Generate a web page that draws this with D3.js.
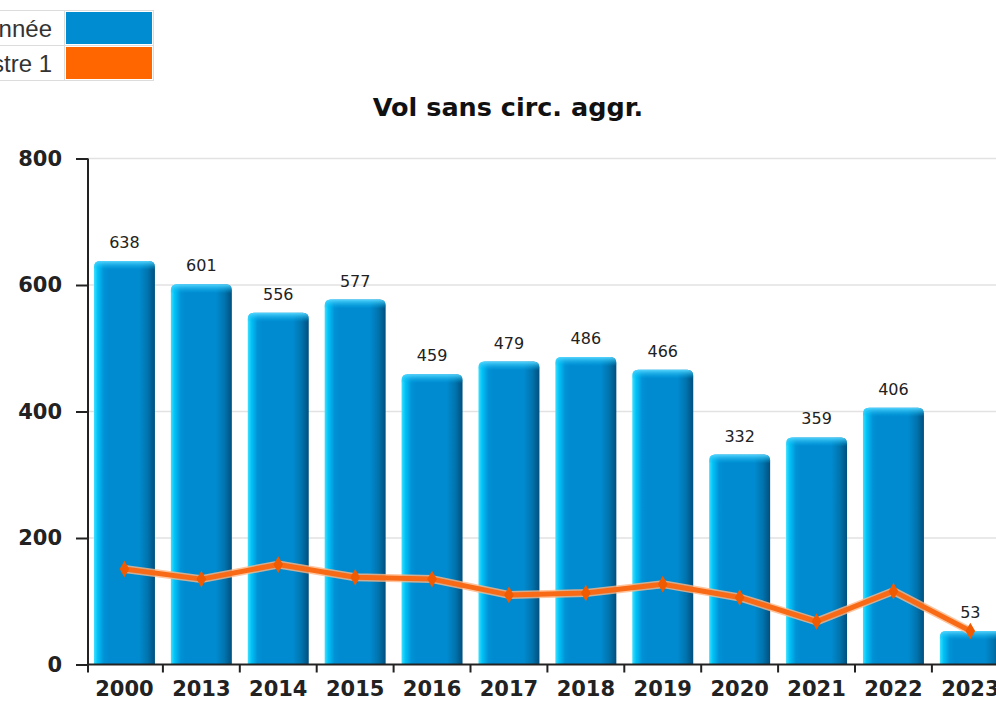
<!DOCTYPE html>
<html>
<head>
<meta charset="utf-8">
<script src="https://cdn.jsdelivr.net/npm/d3@7"></script>
<style>
  html, body { margin: 0; padding: 0; background: #fff; overflow: hidden; }
  svg { display: block; }
</style>
</head>
<body>
<svg id="chart"></svg>
<script>
// data
let years = ["2000", "2013", "2014", "2015", "2016", "2017", "2018", "2019", "2020", "2021", "2022", "2023"];
let annee = [638, 601, 556, 577, 459, 479, 486, 466, 332, 359, 406, 53];
let trimestre1 = [151, 135, 158, 138, 135, 110, 113, 127, 106, 68, 116, 53];
let yTicks = [0, 200, 400, 600, 800];
let legendLabels = ["Année", "Trimestre 1"];
let legendColors = ["#008cd1", "#ff6600"];
let title = "Vol sans circ. aggr.";

let W = 996, H = 701;
let svg = d3.select("#chart").attr("width", W).attr("height", H);

// gradients for the 3d look of the bars
let defs = svg.append("defs");
let gBody = defs.append("linearGradient").attr("id", "barBody")
    .attr("x1", 0).attr("x2", 1).attr("y1", 0).attr("y2", 0);
[["0%", "#3fe0ff"], ["6%", "#00c3f7"], ["16%", "#0092d6"], ["24%", "#008bd0"],
 ["74%", "#008bd0"], ["88%", "#0074ae"], ["100%", "#004f7e"]].forEach(function(s) {
    gBody.append("stop").attr("offset", s[0]).attr("stop-color", s[1]);
});
let gCap = defs.append("linearGradient").attr("id", "barCap")
    .attr("x1", 0).attr("x2", 0).attr("y1", 0).attr("y2", 1);
gCap.append("stop").attr("offset", "0%").attr("stop-color", "#5ad8ff").attr("stop-opacity", 0.95);
gCap.append("stop").attr("offset", "100%").attr("stop-color", "#00b0ee").attr("stop-opacity", 0);

// scales
let step = 76.9;
let x = d3.scaleBand().domain(years)
    .range([86, 86 + step * years.length])
    .paddingInner(0.207).paddingOuter(0.1035);
let y = d3.scaleLinear().domain([0, 800]).range([664.5, 158.5]);
let cx = function(d) { return x(d) + x.bandwidth() / 2; };

// title
svg.append("text")
    .attr("x", 508).attr("y", 116)
    .attr("text-anchor", "middle")
    .style("font-family", "DejaVu Sans").style("font-weight", "bold").style("font-size", "25.5px")
    .style("fill", "#111")
    .text(title);

// gridlines
svg.append("g").selectAll("line")
    .data(yTicks.filter(function(d) { return d > 0; }))
    .enter().append("line")
    .attr("x1", 88).attr("x2", W)
    .attr("y1", function(d) { return y(d); })
    .attr("y2", function(d) { return y(d); })
    .style("stroke", "#e2e2e2").style("stroke-width", 1.5);

// bars
function barPath(x0, w, top, bottom, r) {
    return "M" + x0 + "," + bottom +
        "V" + (top + r) +
        "Q" + x0 + "," + top + " " + (x0 + r) + "," + top +
        "H" + (x0 + w - r) +
        "Q" + (x0 + w) + "," + top + " " + (x0 + w) + "," + (top + r) +
        "V" + bottom + "Z";
}
let bars = svg.append("g").selectAll("g")
    .data(years).enter().append("g");
bars.append("path")
    .attr("d", function(d, i) { return barPath(x(d), x.bandwidth(), y(annee[i]), y(0), 6); })
    .style("fill", "url(#barBody)");
bars.append("path")
    .attr("d", function(d, i) { return barPath(x(d), x.bandwidth(), y(annee[i]), y(annee[i]) + 9, 6); })
    .style("fill", "url(#barCap)");

// value labels over the bars
svg.append("g").selectAll("text")
    .data(years).enter().append("text")
    .attr("x", cx)
    .attr("y", function(d, i) { return y(annee[i]) - 13; })
    .attr("text-anchor", "middle")
    .style("font-family", "DejaVu Sans").style("font-size", "16px")
    .style("fill", "#222")
    .text(function(d, i) { return annee[i]; });

// trimestre 1 line
let line = d3.line()
    .x(function(d, i) { return cx(years[i]); })
    .y(function(d) { return y(d); });
svg.append("path").datum(trimestre1)
    .attr("d", line)
    .style("fill", "none").style("stroke", "#ffb787").style("stroke-width", 8)
    .style("stroke-linejoin", "round").style("opacity", 0.8);
svg.append("path").datum(trimestre1)
    .attr("d", line)
    .style("fill", "none").style("stroke", "#f86a16").style("stroke-width", 5)
    .style("stroke-linejoin", "round");
svg.append("g").selectAll("path")
    .data(trimestre1).enter().append("path")
    .attr("transform", function(d, i) { return "translate(" + cx(years[i]) + "," + y(d) + ")"; })
    .attr("d", d3.symbol().type(d3.symbolDiamond).size(80))
    .style("fill", "#f05a00");

// y axis
let yAxis = svg.append("g")
    .attr("transform", "translate(88,0)")
    .call(d3.axisLeft(y).tickValues(yTicks).tickSize(12).tickPadding(14).tickSizeOuter(0));
yAxis.select(".domain").remove();
yAxis.selectAll("line").style("stroke", "#222").style("stroke-width", 2);
yAxis.selectAll("text")
    .style("font-family", "DejaVu Sans").style("font-weight", "bold").style("font-size", "21px")
    .style("fill", "#222");
svg.append("line")
    .attr("x1", 88).attr("x2", 88).attr("y1", y(800)).attr("y2", y(0) + 8)
    .style("stroke", "#222").style("stroke-width", 2);

// x axis
svg.append("line")
    .attr("x1", 88).attr("x2", W).attr("y1", y(0)).attr("y2", y(0))
    .style("stroke", "#222").style("stroke-width", 2);
svg.append("g").selectAll("line")
    .data(years.slice(0, -1)).enter().append("line")
    .attr("x1", function(d) { return cx(d) + step / 2; })
    .attr("x2", function(d) { return cx(d) + step / 2; })
    .attr("y1", y(0)).attr("y2", y(0) + 8)
    .style("stroke", "#222").style("stroke-width", 2);
let xAxis = svg.append("g")
    .attr("transform", "translate(0," + y(0) + ")")
    .call(d3.axisBottom(x).tickSize(0).tickPadding(17));
xAxis.select(".domain").remove();
xAxis.selectAll("text")
    .style("font-family", "DejaVu Sans").style("font-weight", "bold").style("font-size", "21px")
    .style("fill", "#222");

// legend, a small table at the top left, cut by the page edge
let legend = svg.append("g");
let rows = legend.selectAll("g").data(legendLabels).enter().append("g")
    .attr("transform", function(d, i) { return "translate(0," + (10.5 + i * 35) + ")"; });
rows.append("rect")
    .attr("x", -200).attr("y", 0).attr("width", 264.5).attr("height", 35)
    .style("fill", "#fff").style("stroke", "#dcdcdc");
rows.append("rect")
    .attr("x", 64.5).attr("y", 0).attr("width", 89).attr("height", 35)
    .style("fill", "#fff").style("stroke", "#dcdcdc");
rows.append("rect")
    .attr("x", 66).attr("y", 1.5).attr("width", 86).attr("height", 32)
    .style("fill", function(d, i) { return legendColors[i]; });
rows.append("text")
    .attr("x", 52).attr("y", 26)
    .attr("text-anchor", "end")
    .style("font-family", "Liberation Sans").style("font-size", "24px")
    .style("fill", "#333")
    .text(function(d) { return d; });
</script>
</body>
</html>
